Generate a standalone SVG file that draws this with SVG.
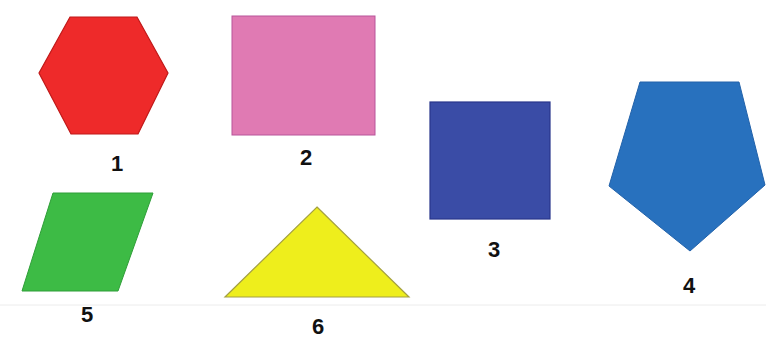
<svg xmlns="http://www.w3.org/2000/svg" width="766" height="338" viewBox="0 0 766 338">
<style>
.lbl{font-family:"Liberation Sans",Arial,sans-serif;font-weight:bold;font-size:22px;fill:#111;text-anchor:middle}
</style>
<rect width="766" height="338" fill="#ffffff"/>
<line x1="0" y1="305" x2="766" y2="305" stroke="#ececec" stroke-width="1"/>
<g id="node1">
<polygon points="70,17 137,17 168,73 138,134 71,134 39,73" fill="#ee2a2a" stroke="#c01818" stroke-width="1.2"/>
<text class="lbl" x="117" y="171">1</text>
</g>
<g id="node2">
<rect x="232" y="16" width="143" height="119" fill="#e07ab3" stroke="#b8559a" stroke-width="1"/>
<text class="lbl" x="306" y="165">2</text>
</g>
<g id="node3">
<rect x="430" y="102" width="120" height="117" fill="#3a4ca6" stroke="#28368c" stroke-width="1.2"/>
<text class="lbl" x="494" y="257">3</text>
</g>
<g id="node4">
<polygon points="640,82 739,82 765,185 690,251 609,186" fill="#2871be" stroke="#2262aa" stroke-width="1"/>
<text class="lbl" x="689" y="293">4</text>
</g>
<g id="node5">
<polygon points="53,193 153,193 118,291 22,291" fill="#3dbb45" stroke="#2f9e38" stroke-width="1"/>
<text class="lbl" x="87" y="322">5</text>
</g>
<g id="node6">
<polygon points="317,207 409,297 225,297" fill="#eeee1c" stroke="#a4a040" stroke-width="1.2"/>
<text class="lbl" x="318" y="334">6</text>
</g>
<g id="connectors"/>
</svg>
